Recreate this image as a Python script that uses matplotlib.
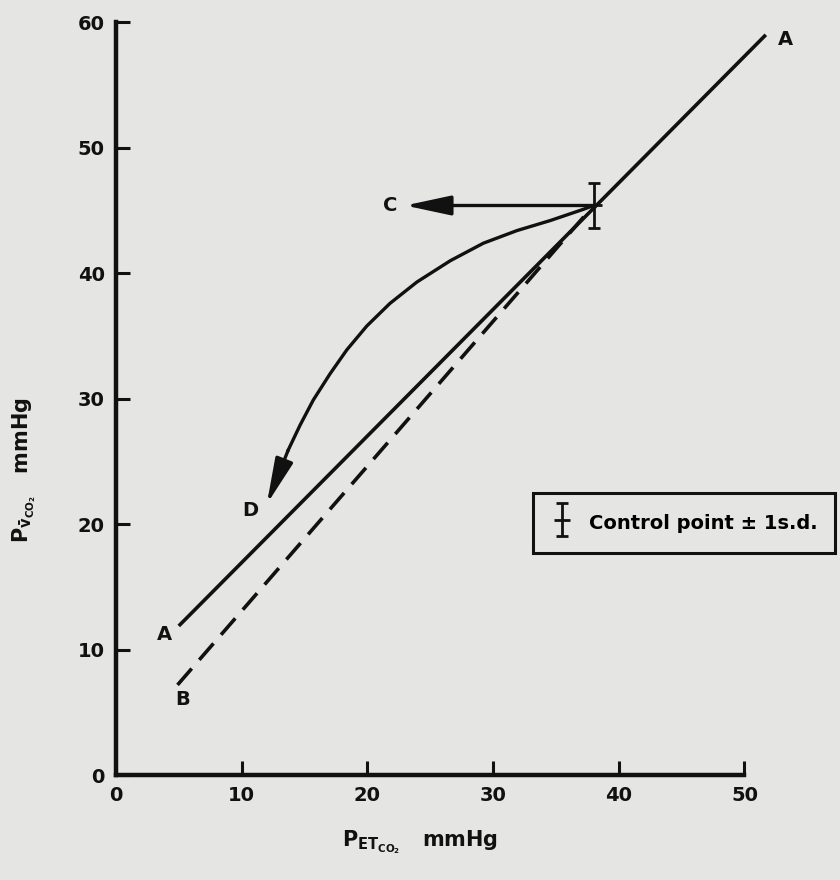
import numpy as np
import matplotlib
matplotlib.use("Agg")
import matplotlib.pyplot as plt
from matplotlib.container import ErrorbarContainer
from matplotlib.legend_handler import HandlerTuple, HandlerErrorbar

plt.rcParams["font.family"] = ["DejaVu Sans"]
plt.rcParams["mathtext.fontset"] = "dejavusans"

# ---- data ----
line_a_x = [5.0, 51.7]
line_a_y = [11.9, 59.0]
line_b_x = [4.9, 38.0]
line_b_y = [7.2, 45.4]

control_x = 38.0
control_y = 45.4
control_sd = 1.8

curve_x = [38.0, 37.2, 34.55, 31.9, 29.24, 26.6, 23.94, 21.8, 19.96, 18.37,
           17.04, 15.7, 14.65, 13.7, 12.9, 12.0]
curve_y = [45.4, 45.1, 44.2, 43.4, 42.4, 41.0, 39.3, 37.6, 35.8, 33.9,
           32.0, 29.9, 27.9, 25.9, 23.8, 21.6]

arrow_c_x = 23.0

labels = [("A", 53.3, 58.6), ("A", 3.9, 11.2), ("B", 5.3, 6.0),
          ("C", 21.8, 45.4), ("D", 10.7, 21.1)]

xticks = [0, 10, 20, 30, 40, 50]
yticks = [0, 10, 20, 30, 40, 50, 60]

bg = "#e5e5e3"
ink = "#111111"

fig = plt.figure(figsize=(8.4, 8.8), dpi=100, facecolor=bg)
ax = fig.add_axes([0.138, 0.119, 0.853, 0.8557], facecolor=bg)
ax.set_xlim(0, 57)
ax.set_ylim(0, 60)

# lines
ax.plot(line_a_x, line_a_y, color=ink, lw=2.6, solid_capstyle="butt", clip_on=False)
ax.plot(line_b_x, line_b_y, color=ink, lw=2.6, dashes=(6, 3.2), clip_on=False)

# curved path to D, with arrow head
ax.plot(curve_x[:-2], curve_y[:-2], color=ink, lw=2.4, solid_joinstyle="round")
ax.annotate("", xy=(curve_x[-1], curve_y[-1]), xytext=(curve_x[-3], curve_y[-3]),
            arrowprops=dict(arrowstyle="-|>,head_length=1.4,head_width=0.28",
                            color=ink, lw=2.4, mutation_scale=20,
                            shrinkA=0, shrinkB=0))

# horizontal arrow to C
ax.annotate("", xy=(arrow_c_x, control_y), xytext=(control_x, control_y),
            arrowprops=dict(arrowstyle="-|>,head_length=1.4,head_width=0.3",
                            color=ink, lw=2.4, mutation_scale=20,
                            shrinkA=0, shrinkB=0))

# control point +/- 1 s.d.
eb = ax.errorbar([control_x], [control_y], yerr=[control_sd],
                 fmt="none", ecolor=ink, elinewidth=2.0, capsize=4, capthick=2.0)
hbar, = ax.plot([control_x], [control_y], marker="_", markersize=12,
                markeredgewidth=2.0, color=ink, linestyle="none")

for txt, x, y in labels:
    ax.text(x, y, txt, fontsize=14, fontweight="bold", ha="center", va="center",
            color=ink, clip_on=False)

# legend box
leg = ax.legend([(eb, hbar)], ["Control point \u00b1 1s.d."], loc="center left",
                handler_map={tuple: HandlerTuple(ndivide=1),
                             ErrorbarContainer: HandlerErrorbar(yerr_size=0.85)},
                bbox_to_anchor=(0.582, 0.335), frameon=True, fancybox=False,
                edgecolor=ink, facecolor=bg, framealpha=1,
                prop=dict(size=14, weight="bold"), handlelength=1.2,
                handleheight=1.6, borderpad=0.9, handletextpad=0.8,
                borderaxespad=0)
leg.get_frame().set_linewidth(2.2)

# axes styling
for side in ["top", "right"]:
    ax.spines[side].set_visible(False)
for side in ["left", "bottom"]:
    ax.spines[side].set_linewidth(3.2)
    ax.spines[side].set_color(ink)
ax.spines["bottom"].set_bounds(0, 50)
ax.spines["left"].set_bounds(0, 60)

ax.set_xticks(xticks)
ax.set_yticks(yticks)
ax.tick_params(direction="in", length=10, width=2.2, colors=ink,
               labelsize=14, pad=8)
for lab in ax.get_xticklabels() + ax.get_yticklabels():
    lab.set_fontweight("bold")

fig.text(420 / 840, 1 - 842 / 880, r"$\mathbf{P_{ET_{CO_2}}}$   mmHg",
         fontsize=15, fontweight="bold", ha="center", va="center", color=ink)
fig.text(24 / 840, 1 - 470 / 880, r"$\mathbf{P_{\bar{v}_{CO_2}}}$   mmHg",
         fontsize=15, fontweight="bold", ha="center", va="center",
         rotation=90, color=ink)

fig.savefig("out.png", dpi=100, facecolor=bg)
